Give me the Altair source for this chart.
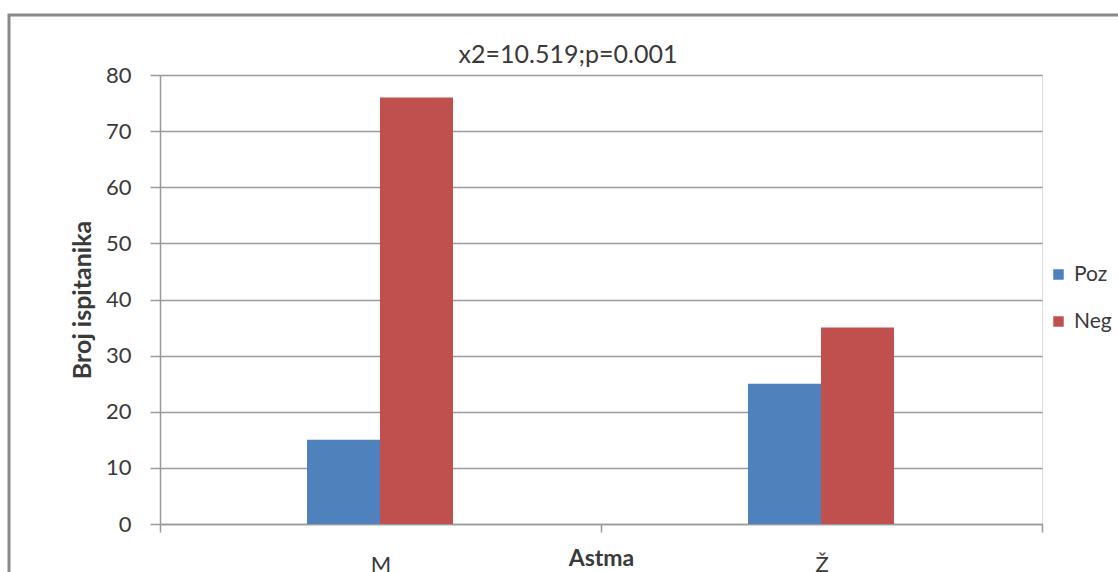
import altair as alt
import pandas as pd

categories = ["M", "Ž"]
series = ["Poz", "Neg"]
poz_values = [15, 25]
neg_values = [76, 35]
y_ticks = [0, 10, 20, 30, 40, 50, 60, 70, 80]
colors = ["#4f81bd", "#c0504d"]

rows = []
for i, c in enumerate(categories):
    rows.append({"Astma": c, "Serija": "Poz", "Broj": poz_values[i]})
    rows.append({"Astma": c, "Serija": "Neg", "Broj": neg_values[i]})
df = pd.DataFrame(rows)

FONT = "Lato"
TXT = "#3a3a3a"
GRID = "#9a9a9a"

bars = alt.Chart(df).mark_bar().encode(
    x=alt.X(
        "Astma:N",
        sort=categories,
        scale=alt.Scale(paddingInner=0, paddingOuter=0),
        axis=alt.Axis(
            title="Astma",
            labelAngle=0,
            tickBand="extent",
            grid=False,
            domainColor=GRID,
            domainWidth=1.5,
            tickColor=GRID,
            tickWidth=1.5,
            tickSize=8,
            labelFont=FONT,
            labelFontSize=22,
            labelColor=TXT,
            labelPadding=22,
            titleFont=FONT,
            titleFontSize=23,
            titleFontWeight="bold",
            titleColor=TXT,
            titleY=23,
            titleBaseline="top",
        ),
    ),
    xOffset=alt.XOffset(
        "Serija:N",
        sort=series,
        scale=alt.Scale(paddingInner=0, paddingOuter=0, range=[147, 293]),
    ),
    y=alt.Y(
        "Broj:Q",
        scale=alt.Scale(domain=[0, 80]),
        axis=alt.Axis(
            title="Broj ispitanika",
            values=y_ticks,
            grid=True,
            gridColor=GRID,
            gridWidth=1.5,
            domainColor=GRID,
            domainWidth=1.5,
            tickColor=GRID,
            tickWidth=1.5,
            tickSize=10,
            labelFont=FONT,
            labelFontSize=22,
            labelColor=TXT,
            labelPadding=19,
            titleFont=FONT,
            titleFontSize=25,
            titleFontWeight="bold",
            titleColor=TXT,
            titlePadding=10,
        ),
    ),
    color=alt.Color(
        "Serija:N",
        sort=series,
        scale=alt.Scale(domain=series, range=colors),
        legend=alt.Legend(
            title=None,
            orient="none",
            legendX=888,
            legendY=189,
            symbolType="square",
            symbolSize=110,
            symbolStrokeWidth=0,
            labelFont=FONT,
            labelFontSize=21,
            labelColor=TXT,
            labelOffset=5,
            rowPadding=25,
        ),
    ),
)

border = alt.Chart(alt.Data(values=[{}])).mark_rect(
    fill=None, stroke="#8a8a8a", strokeWidth=3
).encode(
    x=alt.value(-151),
    x2=alt.value(975),
    y=alt.value(-60),
    y2=alt.value(520),
)

chart = alt.layer(border, bars).properties(
    width=882,
    height=449,
    autosize=alt.AutoSizeParams(type="none"),
    padding={"left": 160, "top": 75, "right": 76, "bottom": 48},
    title=alt.TitleParams(
        text="x2=10.519;p=0.001",
        font=FONT,
        fontSize=25,
        fontWeight="normal",
        color=TXT,
        anchor="middle",
        dx=-33,
        dy=64,
        offset=10,
    ),
).configure_view(stroke=None).configure(background="white")

chart.save("out.html", embed_options={"renderer": "svg", "actions": False})
